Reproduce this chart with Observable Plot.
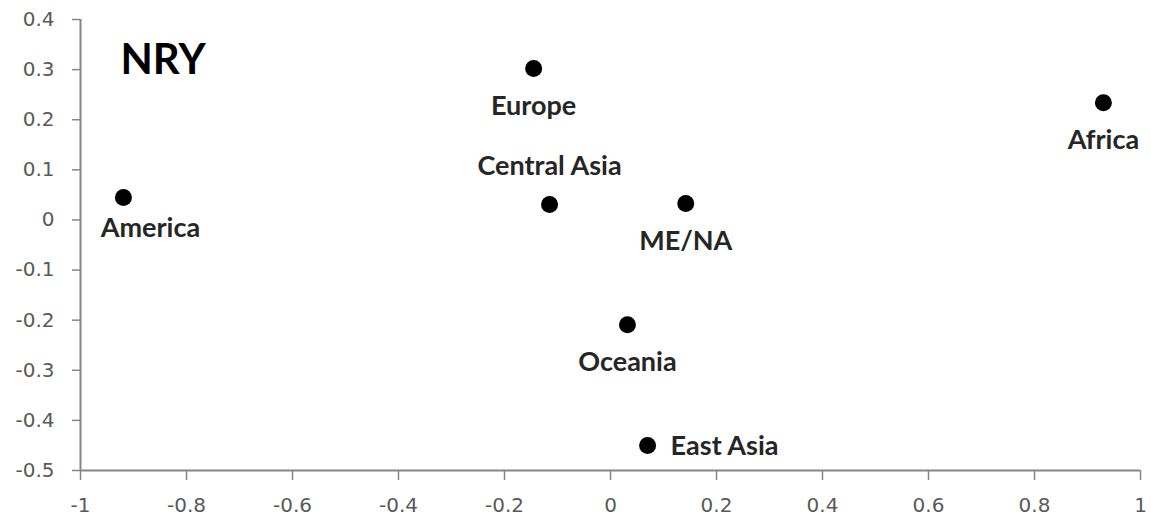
<!DOCTYPE html>
<html>
<head>
<meta charset="utf-8">
<script src="https://cdn.jsdelivr.net/npm/d3@7"></script>
<script src="https://cdn.jsdelivr.net/npm/@observablehq/plot@0.6"></script>
<style>
  html, body { margin: 0; padding: 0; background: #fff; }
  #chart svg { display: block; }
</style>
</head>
<body>
<div id="chart"></div>
<script>
// NRY: population groups on the first two principal coordinates
const groups = ["America", "Europe", "Central Asia", "ME/NA", "Oceania", "East Asia", "Africa"];
const xValues = [-0.919, -0.145, -0.115, 0.142, 0.032, 0.070, 0.930];
const yValues = [0.045, 0.302, 0.031, 0.033, -0.209, -0.450, 0.234];
// where each name sits relative to its point
const labelSide = ["belowRight", "below", "above", "below", "below", "right", "below"];

const xTicks = [-1, -0.8, -0.6, -0.4, -0.2, 0, 0.2, 0.4, 0.6, 0.8, 1];
const yTicks = [0.4, 0.3, 0.2, 0.1, 0, -0.1, -0.2, -0.3, -0.4, -0.5];
const panelTitle = "NRY";

const rows = groups.map((g, i) => ({ name: g, x: xValues[i], y: yValues[i], side: labelSide[i] }));

const axisColor = "#868686";
const tickText = "#595959";
const labelFont = "Lato, 'Open Sans', sans-serif";
const tickFont = "DejaVu Sans";
const tickFontSize = 20;

const offsets = {
  below: { dx: 0, dy: 38, textAnchor: "middle" },
  above: { dx: 0, dy: -38, textAnchor: "middle" },
  belowRight: { dx: 27, dy: 31, textAnchor: "middle" },
  right: { dx: 23, dy: 1, textAnchor: "start" }
};

const labelMarks = Object.entries(offsets).map(([side, o]) =>
  Plot.text(rows.filter(d => d.side === side), {
    x: "x", y: "y", text: "name",
    dx: o.dx, dy: o.dy, textAnchor: o.textAnchor,
    fill: "#262626", fontSize: 27, fontWeight: "bold",
    fontFamily: labelFont
  })
);

const chart = Plot.plot({
  width: 1151,
  height: 518,
  marginLeft: 80,
  marginRight: 11,
  marginTop: 19,
  marginBottom: 48,
  style: { background: "#fff" },
  x: { domain: [-1, 1] },
  y: { domain: [-0.5, 0.4] },
  marks: [
    // tick marks only; the numbers are drawn as text marks below
    Plot.axisY({
      ticks: yTicks, tickSize: 8, stroke: axisColor, strokeWidth: 1.5,
      label: null, tickFormat: () => ""
    }),
    Plot.axisX({
      ticks: xTicks, tickSize: 10, stroke: axisColor, strokeWidth: 1.5,
      label: null, tickFormat: () => ""
    }),
    Plot.text(yTicks, {
      x: -1, y: d => d, text: d => String(d), dx: -26, textAnchor: "end",
      fill: tickText, fontSize: tickFontSize, fontFamily: tickFont
    }),
    Plot.text(xTicks, {
      x: d => d, y: -0.5, text: d => String(d), dy: 35, textAnchor: "middle",
      fill: tickText, fontSize: tickFontSize, fontFamily: tickFont
    }),
    Plot.ruleX([-1], { stroke: axisColor, strokeWidth: 2 }),
    Plot.ruleY([-0.5], { stroke: axisColor, strokeWidth: 2 }),
    Plot.dot(rows, { x: "x", y: "y", r: 8.5, fill: "#000", stroke: null }),
    ...labelMarks,
    Plot.text([panelTitle], {
      frameAnchor: "top-left", dx: 40, dy: 41, text: d => d,
      fontSize: 42, fontWeight: "bold", fill: "#000",
      fontFamily: labelFont, lineAnchor: "middle", textAnchor: "start"
    })
  ]
});

document.getElementById("chart").appendChild(chart);
</script>
</body>
</html>
